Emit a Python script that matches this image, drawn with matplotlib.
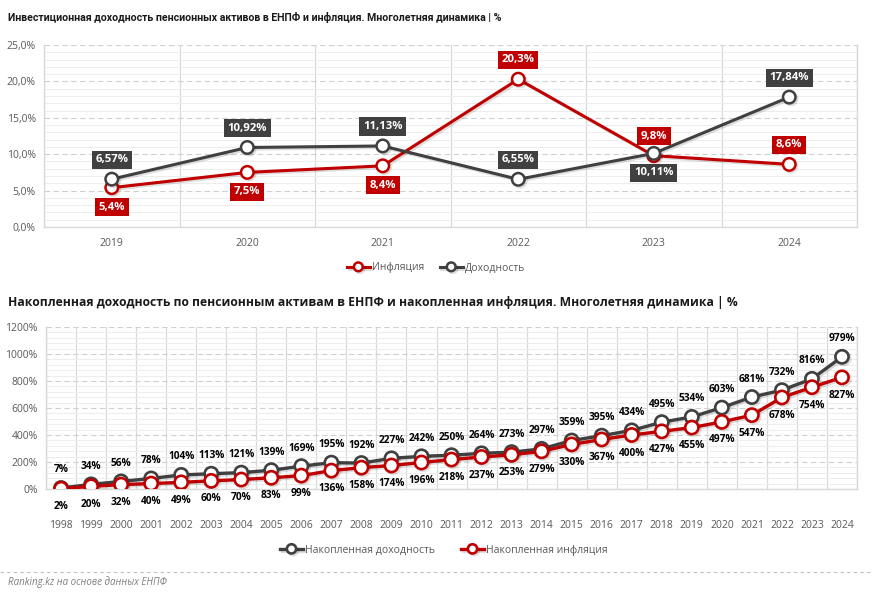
import matplotlib
matplotlib.use('Agg')
import matplotlib.pyplot as plt
import matplotlib.patheffects as pe
from matplotlib.ticker import FuncFormatter, MultipleLocator
from matplotlib.lines import Line2D

# ---------------- data ----------------
years_top = ['2019', '2020', '2021', '2022', '2023', '2024']
inflation = [5.4, 7.5, 8.4, 20.3, 9.8, 8.6]
returns = [6.57, 10.92, 11.13, 6.55, 10.11, 17.84]
inflation_labels = ['5,4%', '7,5%', '8,4%', '20,3%', '9,8%', '8,6%']
returns_labels = ['6,57%', '10,92%', '11,13%', '6,55%', '10,11%', '17,84%']
inflation_label_dir = [-1, -1, -1, 1, 1, 1]
returns_label_dir = [1, 1, 1, 1, -1, 1]

years_bot = ['1998', '1999', '2000', '2001', '2002', '2003', '2004', '2005', '2006',
             '2007', '2008', '2009', '2010', '2011', '2012', '2013', '2014', '2015',
             '2016', '2017', '2018', '2019', '2020', '2021', '2022', '2023', '2024']
cum_returns = [7, 34, 56, 78, 104, 113, 121, 139, 169, 195, 192, 227, 242, 250, 264,
               273, 297, 359, 395, 434, 495, 534, 603, 681, 732, 816, 979]
cum_inflation = [2, 20, 32, 40, 49, 60, 70, 83, 99, 136, 158, 174, 196, 218, 237,
                 253, 279, 330, 367, 400, 427, 455, 497, 547, 678, 754, 827]

title_top = 'Инвестиционная доходность пенсионных активов в ЕНПФ и инфляция. Многолетняя динамика | %'
title_bot = 'Накопленная доходность по пенсионным активам в ЕНПФ и накопленная инфляция. Многолетняя динамика | %'
source = 'Ranking.kz на основе данных ЕНПФ'

RED = '#C00000'
DARK = '#404040'
TICK = '#595959'
FONT = ['Open Sans', 'DejaVu Sans']

plt.rcParams['font.family'] = FONT

fig = plt.figure(figsize=(8.72, 5.95), dpi=100)

shadow = [pe.SimpleLineShadow(offset=(1.2, -1.2), alpha=0.13, shadow_color='black'), pe.Normal()]


def style_axes(ax, n, ymax, major, minor):
    ax.set_xlim(-0.5, n - 0.5)
    ax.set_ylim(0, ymax)
    ax.spines['top'].set_visible(False)
    for s in ['left', 'right', 'bottom']:
        ax.spines[s].set_color('#D9D9D9')
        ax.spines[s].set_linewidth(1)
    ax.yaxis.set_major_locator(MultipleLocator(major))
    ax.yaxis.set_minor_locator(MultipleLocator(minor))
    ax.grid(which='minor', axis='y', color='#EDEDED', linewidth=0.8, linestyle='-')
    ax.grid(which='major', axis='y', color='#D0D0D0', linewidth=0.8, linestyle=(0, (5, 3)))
    for b in range(n + 1):
        ax.axvline(b - 0.5, color='#D9D9D9', linewidth=0.9, zorder=0.5)
    ax.set_axisbelow(True)
    ax.tick_params(axis='both', which='both', length=0, colors=TICK, labelsize=7.5)
    ax.tick_params(axis='y', pad=6)


# ---------------- top chart ----------------
ax1 = fig.add_axes([0.0505, 0.6185, 0.9323, 0.3059])
x1 = list(range(len(years_top)))
style_axes(ax1, len(years_top), 25, 5, 1)
ax1.yaxis.set_major_formatter(FuncFormatter(lambda v, p: f'{v:.1f}%'.replace('.', ',')))
ax1.set_xticks(x1)
ax1.set_xticklabels(years_top)
ax1.tick_params(axis='x', pad=8)

l_inf, = ax1.plot(x1, inflation, color=RED, lw=2.2, marker='o', ms=9, mfc='white',
                  mec=RED, mew=1.8, zorder=3, path_effects=shadow, label='Инфляция')
l_ret, = ax1.plot(x1, returns, color=DARK, lw=2.2, marker='o', ms=9, mfc='white',
                  mec=DARK, mew=1.8, zorder=4, path_effects=shadow, label='Доходность')

for xi, v, t, d in zip(x1, returns, returns_labels, returns_label_dir):
    ax1.annotate(t, (xi, v), xytext=(0, 14 * d), textcoords='offset points',
                 ha='center', va='center', color='white', fontsize=8.2, fontweight='bold',
                 bbox=dict(boxstyle='square,pad=0.32', fc=DARK, ec='none'), zorder=6)
for xi, v, t, d in zip(x1, inflation, inflation_labels, inflation_label_dir):
    ax1.annotate(t, (xi, v), xytext=(0, 14 * d), textcoords='offset points',
                 ha='center', va='center', color='white', fontsize=8.2, fontweight='bold',
                 bbox=dict(boxstyle='square,pad=0.32', fc=RED, ec='none'), zorder=6)

fig.legend(handles=[l_inf, l_ret], loc='center', bbox_to_anchor=(0.5, 0.5496), ncol=2,
           frameon=False, fontsize=7.5, handlelength=2.2, columnspacing=1.5,
           handletextpad=0.2, labelcolor=TICK, markerscale=0.7)

fig.text(0.009, 0.971, title_top, fontsize=7.6, fontweight='bold', color='#1a1a1a',
         ha='left', va='center', family=['Roboto', 'DejaVu Sans'])

# ---------------- bottom chart ----------------
ax2 = fig.add_axes([0.0528, 0.1782, 0.9300, 0.2722])
x2 = list(range(len(years_bot)))
style_axes(ax2, len(years_bot), 1200, 200, 40)
ax2.yaxis.set_major_formatter(FuncFormatter(lambda v, p: f'{v:.0f}%'))
ax2.set_xticks(x2)
ax2.set_xticklabels(years_bot)
ax2.tick_params(axis='x', pad=22)

l_cr, = ax2.plot(x2, cum_returns, color=DARK, lw=2.4, marker='o', ms=9.5, mfc='white',
                 mec=DARK, mew=1.9, zorder=3, path_effects=shadow, label='Накопленная доходность')
l_ci, = ax2.plot(x2, cum_inflation, color=RED, lw=2.4, marker='o', ms=9.5, mfc='white',
                 mec=RED, mew=1.9, zorder=4, path_effects=shadow, label='Накопленная инфляция')

for xi, v in zip(x2, cum_returns):
    ax2.annotate(f'{v}%', (xi, v), xytext=(0, 13), textcoords='offset points',
                 ha='center', va='center', color='black', fontsize=7.3, fontweight='bold',
                 zorder=6)
for xi, v in zip(x2, cum_inflation):
    ax2.annotate(f'{v}%', (xi, v), xytext=(0, -13), textcoords='offset points',
                 ha='center', va='center', color='black', fontsize=7.3, fontweight='bold',
                 zorder=6)

fig.legend(handles=[l_cr, l_ci], loc='center', bbox_to_anchor=(0.509, 0.0756), ncol=2,
           frameon=False, fontsize=7.5, handlelength=2.2, columnspacing=2.5,
           handletextpad=0.2, labelcolor=TICK, markerscale=0.7)

fig.text(0.009, 0.492, title_bot, fontsize=8.7, fontweight='bold', color='#1a1a1a',
         ha='left', va='center')

# ---------------- footer ----------------
fig.add_artist(Line2D([0, 1], [0.0387, 0.0387], transform=fig.transFigure,
                      color='#BFBFBF', lw=0.8, linestyle=(0, (3, 3))))
fig.text(0.009, 0.021, source, fontsize=7, style='italic', color='#7F7F7F',
         ha='left', va='center')

fig.savefig('out.png', dpi=100, facecolor='white')
